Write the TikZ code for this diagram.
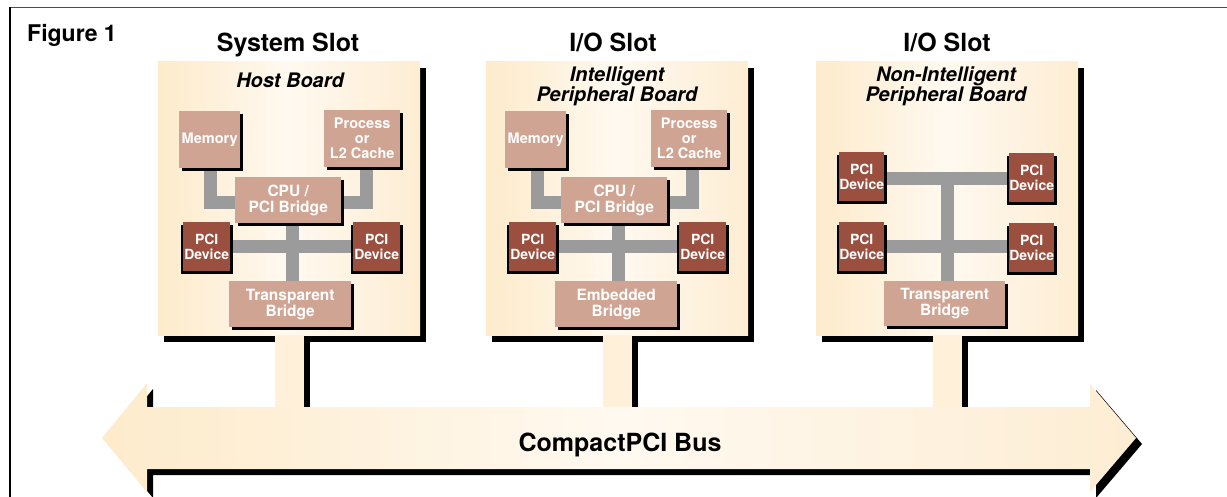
\documentclass[tikz,border=0pt]{standalone}
\usepackage{fontspec}
\setmainfont{TeX Gyre Heros}
\usepackage{tikz}
\usetikzlibrary{shadows, backgrounds, positioning}

\definecolor{creamL}{HTML}{FDEBCB}
\definecolor{creamM}{HTML}{FFF9F0}
\definecolor{creamR}{HTML}{FDEDD3}
\definecolor{creamS}{HTML}{FEF0D9}
\definecolor{tan}{HTML}{D0A492}
\definecolor{brick}{HTML}{9A4F3F}
\definecolor{wiregray}{HTML}{9B9B9B}

\tikzset{
  panel/.style={anchor=north west, inner sep=0pt, minimum width=262pt, minimum height=274pt,
    left color=creamL, right color=creamR, middle color=creamM,
    drop shadow={shadow xshift=6pt, shadow yshift=-7pt, opacity=1, fill=black}},
  chip/.style={anchor=north west, inner sep=0pt, fill=tan, text=white, align=center,
    font=\fontsize{15.5}{16}\selectfont\bfseries,
    drop shadow={shadow xshift=3pt, shadow yshift=-3pt, opacity=1, fill=black}},
  smallchip/.style={chip, font=\fontsize{14.5}{15}\selectfont\bfseries,
    minimum height=57pt},
  device/.style={chip, fill=brick, minimum width=47pt, minimum height=49pt,
    font=\fontsize{14}{14.5}\selectfont\bfseries,
    drop shadow={shadow xshift=-2pt, shadow yshift=-2.5pt, opacity=1, fill=black}},
  wire/.style={draw=wiregray, line width=13pt},
  slottitle/.style={anchor=base, font=\fontsize{25}{28}\selectfont\bfseries},
  boardname/.style={anchor=base, align=center, font=\fontsize{20}{20}\selectfont\bfseries\itshape},
}

\begin{document}
\begin{tikzpicture}[x=1pt, y=-1pt]
\useasboundingbox (0,0) rectangle (1227,497);
% frame
\draw[line width=1.8pt, black!70] (10,7.5) -- (1227,7.5);
\draw[line width=1.5pt] (10,7) -- (10,497);
\node[anchor=base west, inner sep=0pt, font=\fontsize{23}{26}\selectfont\bfseries] (figlabel) at (27,42) {Figure 1};

% boards
\begin{pgfonlayer}{background}
\node[panel] (board1) at (158,61) {};
\node[panel] (board2) at (486,61) {};
\node[panel] (board3) at (816,61) {};
\end{pgfonlayer}

\node[slottitle] (slot1) at (288,52) {System Slot};
\node[slottitle] (slot2) at (613,52) {I/O Slot};
\node[slottitle] (slot3) at (947,52) {I/O Slot};
\node[boardname] (name1) at (290,88) {Host Board};
\node[boardname] (name2) at (617,102) {Intelligent\\Peripheral Board};
\node[boardname] (name3) at (946,102) {Non-Intelligent\\Peripheral Board};

% stems down to the bus
\coordinate (bustop) at (0,407);
\foreach \b in {1,2,3} {
  \fill[black] ([xshift=-8pt, yshift=-7pt]board\b.south) rectangle ([xshift=21pt]board\b.south |- bustop);
  \fill[creamS] ([xshift=-14pt]board\b.south) rectangle ([xshift=15pt]board\b.south |- bustop);
}

% the bus
\fill[black, shift={(6,6)}] (102,438) -- (147,383) -- (147,407) -- (1090,407) -- (1090,384)
  -- (1136,438) -- (1090,492) -- (1090,469) -- (147,469) -- (147,492) -- cycle;
\shade[left color=creamL, right color=creamR, middle color=creamM] (102,438) -- (147,383) -- (147,407)
  -- (1090,407) -- (1090,384) -- (1136,438) -- (1090,492) -- (1090,469) -- (147,469) -- (147,492) -- cycle;
\node[anchor=base, font=\fontsize{25}{28}\selectfont\bfseries] (busname) at (620,451) {CompactPCI Bus};

% host board
\node[smallchip, minimum width=61pt] (mem1) at (179,111) {Memory};
\node[smallchip, minimum width=76pt] (proc1) at (324,110) {Process\\or\\L2 Cache};
\node[chip, minimum width=106pt, minimum height=46pt] (cpu1) at (235,177) {CPU /\\PCI Bridge};
\node[device] (devL1) at (183,222) {PCI\\Device};
\node[device] (devR1) at (353,222) {PCI\\Device};
\node[chip, minimum width=122pt, minimum height=46pt] (bridge1) at (229,281) {Transparent\\Bridge};

% intelligent peripheral board
\node[smallchip, minimum width=61pt] (mem2) at (505,111) {Memory};
\node[smallchip, minimum width=76pt] (proc2) at (651,110) {Process\\or\\L2 Cache};
\node[chip, minimum width=106pt, minimum height=46pt] (cpu2) at (561,177) {CPU /\\PCI Bridge};
\node[device] (devL2) at (509,222) {PCI\\Device};
\node[device] (devR2) at (679,222) {PCI\\Device};
\node[chip, minimum width=122pt, minimum height=46pt] (bridge2) at (555,281) {Embedded\\Bridge};

% non-intelligent peripheral board
\node[device, minimum width=45pt] (devTL3) at (839,152) {PCI\\Device};
\node[device, minimum width=45pt] (devTR3) at (1009,153) {PCI\\Device};
\node[device, minimum width=45pt] (devBL3) at (839,222) {PCI\\Device};
\node[device, minimum width=45pt] (devBR3) at (1009,223) {PCI\\Device};
\node[chip, minimum width=121pt, minimum height=45pt] (bridge3) at (884,281) {Transparent\\Bridge};

% local buses
\begin{pgfonlayer}{background}
\draw[wire] ([xshift=1pt]mem1.south) |- ([yshift=-2pt]cpu1.west);
\draw[wire] ([xshift=4.5pt]proc1.south) |- ([yshift=-2pt]cpu1.east);
\draw[wire] ([xshift=2.5pt]bridge1.north) -- ([xshift=2.5pt]bridge1.north |- cpu1.south);
\draw[wire] (devL1.east) -- (devR1.west);
\draw[wire] ([xshift=2pt]mem2.south) |- ([yshift=-2pt]cpu2.west);
\draw[wire] ([xshift=3.5pt]proc2.south) |- ([yshift=-2pt]cpu2.east);
\draw[wire] ([xshift=2.5pt]bridge2.north) -- ([xshift=2.5pt]bridge2.north |- cpu2.south);
\draw[wire] (devL2.east) -- (devR2.west);
\draw[wire] ([yshift=-1.5pt]devTL3.east) -- ([yshift=-1.5pt]devTL3.east -| devTR3.west);
\draw[wire] (devBL3.east) -- (devBL3.east -| devBR3.west);
\draw[wire] ([xshift=3pt]bridge3.north) -- ([xshift=3pt, yshift=4.5pt]bridge3.north |- devTL3.east);
\end{pgfonlayer}
\end{tikzpicture}
\end{document}
